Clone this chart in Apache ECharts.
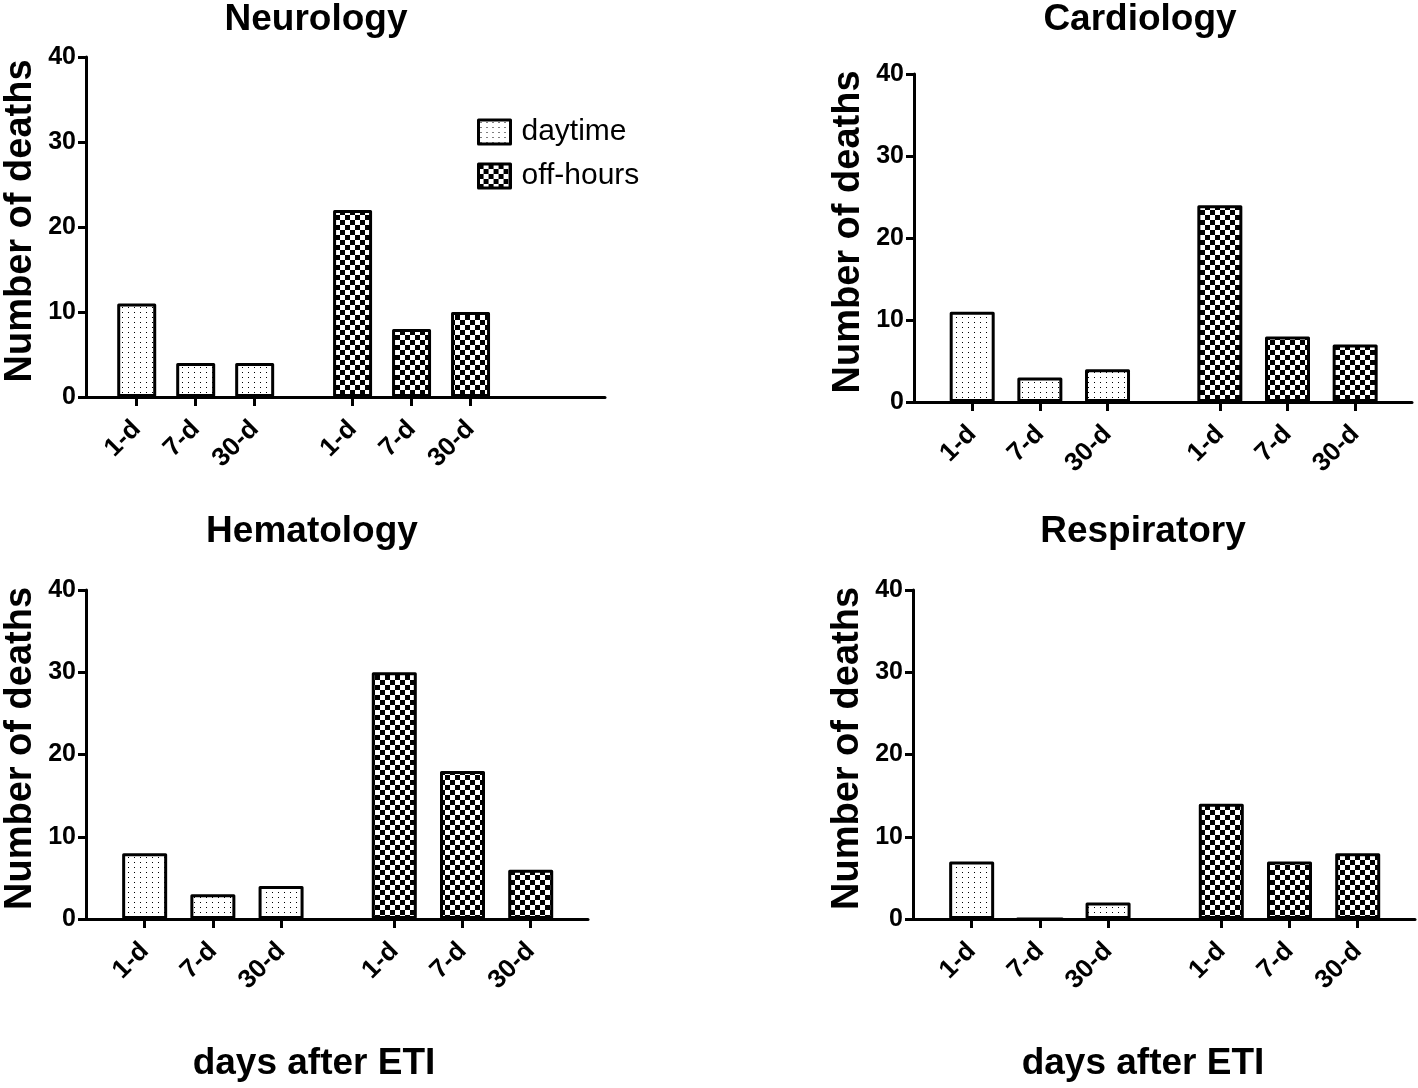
<!DOCTYPE html>
<html>
<head>
<meta charset="utf-8">
<script src="https://cdn.jsdelivr.net/npm/echarts@6/dist/echarts.min.js"></script>
<style>
  html, body { margin: 0; padding: 0; background: #fff; }
  #chart { width: 1418px; height: 1088px; }
</style>
</head>
<body>
<div id="chart"></div>
<script>
// ---- data ----
const categories = ['1-d', '7-d', '30-d'];
const groupNames = ['daytime', 'off-hours'];
const panelTitles = ['Neurology', 'Cardiology', 'Hematology', 'Respiratory'];
const yTickValues = [0, 10, 20, 30, 40];
const xAxisTitle = 'days after ETI';
const yAxisTitle = 'Number of deaths';

const neurologyDaytime = [11, 4, 4];
const neurologyOffHours = [22, 8, 10];
const cardiologyDaytime = [11, 3, 4];
const cardiologyOffHours = [24, 8, 7];
const hematologyDaytime = [8, 3, 4];
const hematologyOffHours = [30, 18, 6];
const respiratoryDaytime = [7, 0, 2];
const respiratoryOffHours = [14, 7, 8];

const panelData = [
  [neurologyDaytime, neurologyOffHours],
  [cardiologyDaytime, cardiologyOffHours],
  [hematologyDaytime, hematologyOffHours],
  [respiratoryDaytime, respiratoryOffHours]
];

// ---- layout ----
const FONT = "'Liberation Sans', Arial, sans-serif";
const firstSlot = 0.86;      // slot units from y axis to first bar
const groupShift = 3.66;     // slot units between the two groups
const grids = [
  { left: 86,  top: 57,  width: 519, height: 340, max: 8.8 },
  { left: 914, top: 74,  width: 498, height: 328, max: 7.36 },
  { left: 86,  top: 590, width: 502, height: 329, max: 7.36 },
  { left: 913, top: 590, width: 502, height: 329, max: 7.36 }
];
function slot(g, i) { return +(firstSlot + i + g * groupShift).toFixed(3); }
const slotValues = [];
const slotLabels = {};
for (let g = 0; g < 2; g++) for (let i = 0; i < categories.length; i++) {
  slotValues.push(slot(g, i));
  slotLabels[slot(g, i).toFixed(3)] = categories[i];
}

// ---- patterns ----
function dotPattern() {
  const c = document.createElement('canvas');
  c.width = 6; c.height = 5;
  const ctx = c.getContext('2d');
  ctx.fillStyle = '#fff'; ctx.fillRect(0, 0, 6, 5);
  ctx.fillStyle = '#000'; ctx.fillRect(2, 2, 1, 1);
  return c;
}
function checkerPattern() {
  const c = document.createElement('canvas');
  c.width = 10; c.height = 10;
  const ctx = c.getContext('2d');
  ctx.fillStyle = '#fff'; ctx.fillRect(0, 0, 10, 10);
  ctx.fillStyle = '#000';
  ctx.fillRect(0, 0, 5, 5); ctx.fillRect(5, 5, 5, 5);
  return c;
}
const fills = [
  { image: dotPattern(), repeat: 'repeat' },
  { image: checkerPattern(), repeat: 'repeat' }
];

const chart = echarts.init(document.getElementById('chart'), null, { renderer: 'canvas' });

const titleStyle = { fontFamily: FONT, fontSize: 37, fontWeight: 'bold', color: '#000' };
const option = {
  backgroundColor: '#fff',
  animation: false,
  textStyle: { fontFamily: FONT, color: '#000' },
  title: [
    { text: panelTitles[0], left: 316, top: 1 },
    { text: panelTitles[1], left: 1140, top: 1 },
    { text: panelTitles[2], left: 312, top: 513 },
    { text: panelTitles[3], left: 1143, top: 513 },
    { text: xAxisTitle, left: 314, top: 1045 },
    { text: xAxisTitle, left: 1143, top: 1045 }
  ].map(t => Object.assign(t, { textAlign: 'center', padding: 0, textStyle: titleStyle })),
  legend: {
    data: groupNames,
    orient: 'vertical',
    left: 477, top: 117,
    itemWidth: 32, itemHeight: 24, itemGap: 14,
    icon: 'rect',
    padding: 0,
    itemStyle: { borderColor: '#000', borderWidth: 3 },
    textStyle: { fontFamily: FONT, fontSize: 30, color: '#000', padding: [0, 0, 0, 6] }
  },
  grid: grids.map(g => ({ left: g.left, top: g.top, width: g.width, height: g.height, containLabel: false })),
  xAxis: grids.map((g, k) => ({
    type: 'value', gridIndex: k, min: 0, max: g.max,
    axisLine: { show: true, onZero: false, lineStyle: { color: '#000', width: 3 } },
    axisTick: { show: true, length: 9, lineStyle: { color: '#000', width: 3 }, customValues: slotValues },
    axisLabel: {
      customValues: slotValues, rotate: 45, margin: 28,
      fontFamily: FONT, fontSize: 26, fontWeight: 'bold', color: '#000',
      formatter: v => slotLabels[(+v).toFixed(3)] || ''
    },
    splitLine: { show: false }
  })),
  yAxis: grids.map((g, k) => ({
    type: 'value', gridIndex: k, min: 0, max: 40, interval: 10,
    name: yAxisTitle, nameLocation: 'middle', nameGap: 46,
    nameTextStyle: { fontFamily: FONT, fontSize: 38, fontWeight: 'bold', color: '#000', padding: [0, 0, 0, 12] },
    axisLine: { show: true, lineStyle: { color: '#000', width: 3 } },
    axisTick: { show: true, length: 8, lineStyle: { color: '#000', width: 3 } },
    axisLabel: { margin: 10, fontFamily: FONT, fontSize: 25, fontWeight: 'bold', color: '#000' },
    splitLine: { show: false }
  })),
  series: []
};

panelData.forEach((pair, k) => {
  const unitPx = grids[k].width / grids[k].max;
  pair.forEach((vals, g) => {
    option.series.push({
      type: 'bar',
      name: groupNames[g],
      xAxisIndex: k, yAxisIndex: k,
      barWidth: Math.round(unitPx * 0.66),
      barGap: '-100%',
      itemStyle: { color: fills[g], borderColor: '#000', borderWidth: 3, borderJoin: 'round' },
      emphasis: { disabled: true },
      data: vals.map((v, i) => [slot(g, i), v])
    });
  });
});

chart.setOption(option);
</script>
</body>
</html>
